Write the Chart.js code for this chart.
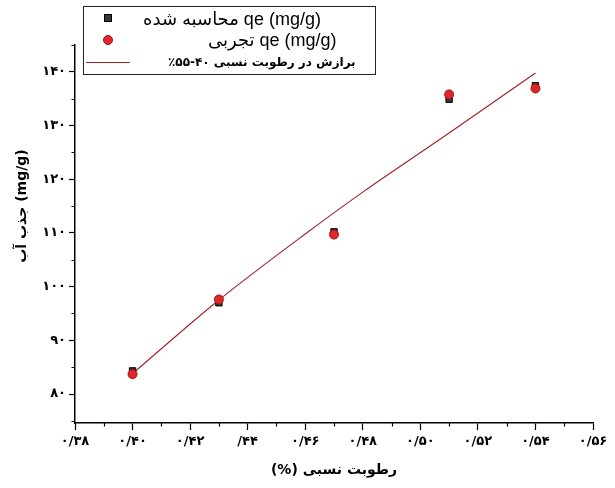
<!DOCTYPE html>
<html>
<head>
<meta charset="utf-8">
<script src="https://cdn.jsdelivr.net/npm/chart.js@4/dist/chart.umd.min.js"></script>
<style>
  html, body { margin: 0; padding: 0; background: #fff; }
  #wrap { width: 615px; height: 488px; }
</style>
</head>
<body>
<div id="wrap"><canvas id="jazbChart"></canvas></div>
<script>
// humidity (fraction)
const rh = [0.40, 0.43, 0.47, 0.51, 0.54];
// qe calculated (squares) and experimental (circles), mg/g
const qeCalc = [84.3, 97.0, 110.2, 134.9, 137.4];
const qeExp = [83.7, 97.6, 109.7, 135.8, 136.9];
// fitted curve
const fitX = [0.40, 0.43, 0.46, 0.48, 0.51, 0.54];
const fitY = [83.8, 97.5, 109.8, 117.6, 128.6, 139.8];

const xTicks = [0.38, 0.40, 0.42, 0.44, 0.46, 0.48, 0.50, 0.52, 0.54, 0.56];
const xTickLabels = ['۰/۳۸', '۰/۴۰', '۰/۴۲', '/۴۴', '۰/۴۶', '۰/۴۸', '۰/۵۰', '۰/۵۲', '۰/۵۴', '۰/۵۶'];
const xMinor = [0.39, 0.41, 0.43, 0.45, 0.47, 0.49, 0.51, 0.53, 0.55];
const yTicks = [80, 90, 100, 110, 120, 130, 140];
const yTickLabels = ['۸۰', '۹۰', '۱۰۰', '۱۱۰', '۱۲۰', '۱۳۰', '۱۴۰'];
const yMinor = [75, 85, 95, 105, 115, 125, 135, 145];

const labelCalc = 'محاسبه شده qe (mg/g)';
const labelExp = 'تجربی qe (mg/g)';
const labelFit = 'برازش در رطوبت نسبی ۴۰-۵۵٪';

const toPts = (xs, ys) => xs.map((x, i) => ({ x: x, y: ys[i] }));

// minor ticks + y title + boxed legend drawn over the plot
const extrasPlugin = {
    id: 'extras',
    afterDraw(chart) {
        const ctx = chart.ctx;
        const xs = chart.scales.x, ys = chart.scales.y;
        const area = chart.chartArea;
        ctx.save();
        ctx.strokeStyle = '#000';
        ctx.lineWidth = 1.2;
        ctx.beginPath();
        xMinor.forEach(v => {
            const p = Math.round(xs.getPixelForValue(v)) + 0.5;
            ctx.moveTo(p, area.bottom);
            ctx.lineTo(p, area.bottom + 3.5);
        });
        yMinor.forEach(v => {
            if (v < ys.min) return;
            const p = Math.round(ys.getPixelForValue(v)) + 0.5;
            ctx.moveTo(area.left, p);
            ctx.lineTo(area.left - 3.5, p);
        });
        ctx.stroke();

        // y title
        ctx.save();
        ctx.translate(22, 206);
        ctx.rotate(-Math.PI / 2);
        ctx.font = 'bold 14px "DejaVu Sans"';
        ctx.fillStyle = '#000';
        ctx.textAlign = 'center';
        ctx.textBaseline = 'middle';
        ctx.fillText('جذب آب (mg/g)', 0, 0);
        ctx.restore();

        // legend box
        ctx.fillStyle = '#fff';
        ctx.fillRect(83, 6, 292, 68);
        ctx.strokeStyle = '#222';
        ctx.lineWidth = 1;
        ctx.strokeRect(83.5, 6.5, 292, 68);

        const ds = chart.data.datasets;
        // square
        ctx.fillStyle = ds[1].backgroundColor;
        ctx.strokeStyle = ds[1].borderColor;
        ctx.fillRect(104, 14, 8, 8);
        ctx.strokeRect(104.5, 14.5, 7, 7);
        // circle
        ctx.beginPath();
        ctx.arc(108, 40, 4.5, 0, Math.PI * 2);
        ctx.fillStyle = ds[0].backgroundColor;
        ctx.fill();
        ctx.strokeStyle = ds[0].borderColor;
        ctx.stroke();
        // line
        ctx.beginPath();
        ctx.moveTo(86, 62.5);
        ctx.lineTo(130, 62.5);
        ctx.strokeStyle = ds[2].borderColor;
        ctx.lineWidth = 1.2;
        ctx.stroke();

        ctx.fillStyle = '#000';
        ctx.textBaseline = 'middle';
        ctx.textAlign = 'left';
        ctx.font = '18px "Liberation Sans", "DejaVu Sans"';
        ctx.fillText(ds[1].label, 143, 20);
        ctx.fillText(ds[0].label, 208, 41);
        ctx.font = 'bold 12px "DejaVu Sans"';
        ctx.direction = 'rtl';
        ctx.textAlign = 'left';
        ctx.fillText(ds[2].label, 168, 63);
        ctx.restore();
    }
};

new Chart(document.getElementById('jazbChart'), {
    type: 'scatter',
    data: {
        datasets: [
            {
                label: labelExp,
                data: toPts(rh, qeExp),
                pointStyle: 'circle',
                pointRadius: 4.5,
                backgroundColor: '#e0262b',
                borderColor: '#a51414',
                borderWidth: 1,
                order: 1
            },
            {
                label: labelCalc,
                data: toPts(rh, qeCalc),
                pointStyle: 'rect',
                pointRadius: 4.5,
                backgroundColor: '#383838',
                borderColor: '#000',
                borderWidth: 1,
                order: 2
            },
            {
                type: 'line',
                label: labelFit,
                data: toPts(fitX, fitY),
                borderColor: '#a3262a',
                borderWidth: 1.2,
                pointRadius: 0,
                cubicInterpolationMode: 'monotone',
                fill: false,
                order: 3
            }
        ]
    },
    options: {
        responsive: true,
        maintainAspectRatio: false,
        animation: false,
        layout: { padding: { left: 0, top: 45, right: 22, bottom: 9 } },
        plugins: { legend: { display: false }, tooltip: { enabled: false } },
        scales: {
            x: {
                type: 'linear',
                min: 0.38,
                max: 0.56,
                afterBuildTicks: s => { s.ticks = xTicks.map(v => ({ value: v })); },
                afterFit: s => { s.height = 56; },
                ticks: {
                    autoSkip: false,
                    maxRotation: 0,
                    padding: 4,
                    color: '#000',
                    font: { family: '"DejaVu Sans"', size: 13, weight: 'bold' },
                    callback: (v, i) => xTickLabels[i]
                },
                grid: { drawOnChartArea: false, drawTicks: true, tickLength: 7, tickColor: '#000', tickWidth: 1.2 },
                border: { color: '#000', width: 1.5 },
                title: {
                    display: true,
                    text: '\u200E(%) رطوبت نسبی',
                    color: '#000',
                    padding: { top: 6, bottom: 0 },
                    font: { family: '"DejaVu Sans"', size: 14, weight: 'bold' }
                }
            },
            y: {
                type: 'linear',
                min: 74.6,
                max: 145,
                afterBuildTicks: s => { s.ticks = yTicks.map(v => ({ value: v })); },
                afterFit: s => { s.width = 75; },
                ticks: {
                    autoSkip: false,
                    padding: 3,
                    color: '#000',
                    font: { family: '"DejaVu Sans"', size: 13, weight: 'bold' },
                    callback: (v, i) => yTickLabels[i]
                },
                grid: { drawOnChartArea: false, drawTicks: true, tickLength: 6, tickColor: '#000', tickWidth: 1.2 },
                border: { color: '#000', width: 1.5 }
            }
        }
    },
    plugins: [extrasPlugin]
});
</script>
</body>
</html>
